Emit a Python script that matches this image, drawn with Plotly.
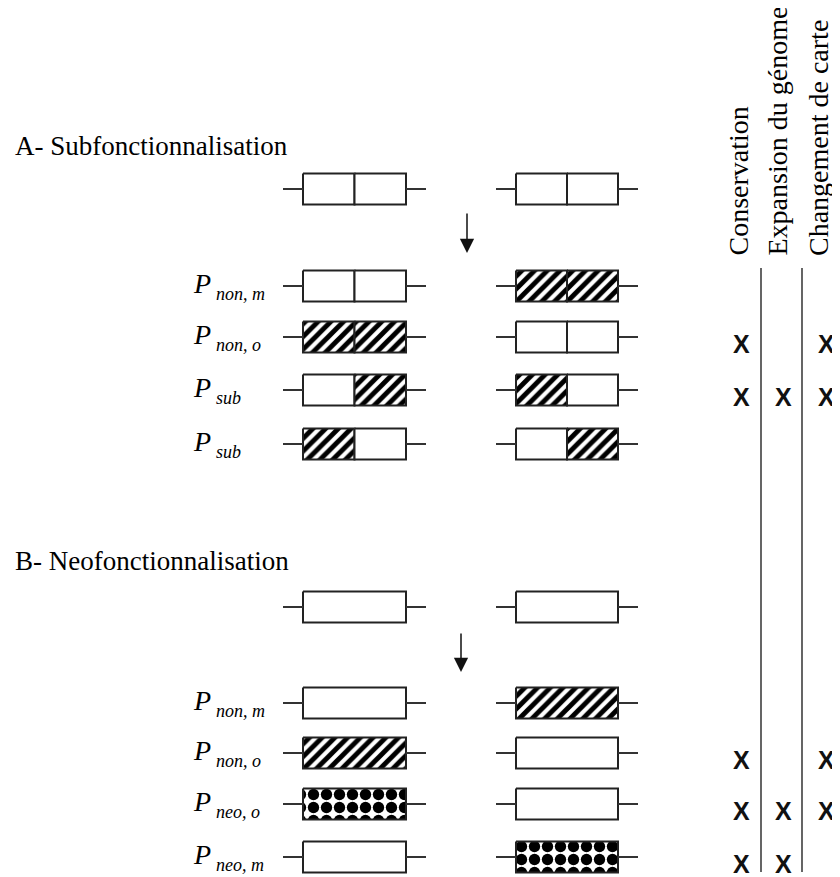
import plotly.graph_objects as go

# ---------------- data ----------------
section_titles = ["A- Subfonctionnalisation", "B- Neofonctionnalisation"]
criteria = ["Conservation", "Expansion du génome", "Changement de carte"]

# rows: first row is the ancestral duplicated pair (no label)
A_labels = ["", "non, m", "non, o", "sub", "sub"]
A_left = [["w", "w"], ["w", "w"], ["h", "h"], ["w", "h"], ["h", "w"]]
A_right = [["w", "w"], ["h", "h"], ["w", "w"], ["h", "w"], ["w", "h"]]
A_marks = [None, [0, 0, 0], [1, 0, 1], [1, 1, 1], [0, 0, 0]]

B_labels = ["", "non, m", "non, o", "neo, o", "neo, m"]
B_left = [["w"], ["w"], ["h"], ["c"], ["w"]]
B_right = [["w"], ["h"], ["w"], ["w"], ["c"]]
B_marks = [None, [0, 0, 0], [1, 0, 1], [1, 1, 1], [1, 1, 0]]

# ---------------- layout constants ----------------
W, H = 840, 877
PAGE_OFF = 8  # default body margin of the html page
A_rows_y = [189, 286, 337, 390, 444]
B_rows_y = [607, 703, 753, 804, 857]
title_baseline = [155, 570]
arrow_x = [467, 461]
arrow_y = [(212, 253), (632, 672)]
box_h = 31
left_box = (303, 406)
right_box = (516, 618)
stub = 20
crit_label_x = [738, 777, 818]
mark_x = [741, 783, 826]
vlines_x = [761, 802]
vline_y = (268, 872)

fig = go.Figure()
shapes = []
annotations = []

serif = "Liberation Serif"


def draw_gene(x0, x1, yc, parts):
    shapes.append(dict(type="line", x0=x0 - stub, x1=x0, y0=yc, y1=yc,
                       line=dict(color="#333", width=2)))
    shapes.append(dict(type="line", x0=x1, x1=x1 + stub, y0=yc, y1=yc,
                       line=dict(color="#333", width=2)))
    n = len(parts)
    wseg = (x1 - x0) / n
    y0, y1 = yc - box_h / 2, yc + box_h / 2
    for i, p in enumerate(parts):
        a, b = x0 + i * wseg, x0 + (i + 1) * wseg
        kw = dict(x=[a, b, b, a, a], y=[y0, y0, y1, y1, y0], mode="lines",
                  fill="toself", line=dict(color="#222", width=2),
                  hoverinfo="skip", showlegend=False)
        if p == "w":
            kw["fillcolor"] = "white"
        elif p == "h":
            kw["fillcolor"] = "black"
            kw["fillpattern"] = dict(shape="/", bgcolor="white", fgcolor="black",
                                     fgopacity=1, size=9, solidity=0.55)
        else:
            kw["fillcolor"] = "black"
            kw["fillpattern"] = dict(shape=".", bgcolor="white", fgcolor="black",
                                     fgopacity=1, size=13, solidity=0.6)
        fig.add_trace(go.Scatter(**kw))


def draw_section(si, rows_y, labels, left, right, marks):
    fs = 27
    annotations.append(dict(x=13, y=title_baseline[si] - 0.34 * fs, text=section_titles[si],
                            xanchor="left", yanchor="middle", showarrow=False,
                            font=dict(family=serif, size=fs, color="black")))
    for r, yc in enumerate(rows_y):
        draw_gene(left_box[0], left_box[1], yc, left[r])
        draw_gene(right_box[0], right_box[1], yc, right[r])
        if labels[r]:
            annotations.append(dict(x=191, y=yc + 7 - 0.34 * 28, text="<i>P</i>",
                                    xanchor="left", yanchor="middle", showarrow=False,
                                    font=dict(family=serif, size=28, color="black")))
            annotations.append(dict(x=214, y=yc + 14 - 0.34 * 18, text="<i>" + labels[r] + "</i>",
                                    xanchor="left", yanchor="middle", showarrow=False,
                                    font=dict(family=serif, size=18, color="black")))
        if marks[r]:
            for c, m in enumerate(marks[r]):
                if m:
                    annotations.append(dict(x=mark_x[c], y=yc + 7, text="<b>X</b>",
                                            xanchor="center", yanchor="middle", showarrow=False,
                                            font=dict(family="Liberation Sans", size=25, color="#111")))
    annotations.append(dict(x=arrow_x[si], y=arrow_y[si][1], ax=arrow_x[si], ay=arrow_y[si][0],
                            xref="x", yref="y", axref="x", ayref="y", text="",
                            showarrow=True, arrowhead=2, arrowsize=1.9, arrowwidth=1.5,
                            arrowcolor="#111"))


draw_section(0, A_rows_y, A_labels, A_left, A_right, A_marks)
draw_section(1, B_rows_y, B_labels, B_left, B_right, B_marks)

for i, name in enumerate(criteria):
    annotations.append(dict(x=crit_label_x[i], y=258, text=name, textangle=-90,
                            xanchor="center", yanchor="bottom", showarrow=False,
                            font=dict(family=serif, size=28, color="black")))

for vx in vlines_x:
    shapes.append(dict(type="line", x0=vx, x1=vx, y0=vline_y[0], y1=vline_y[1],
                       line=dict(color="#555", width=1.8)))

fig.update_layout(
    width=W - PAGE_OFF, height=H - PAGE_OFF, margin=dict(l=0, r=0, t=0, b=0),
    paper_bgcolor="white", plot_bgcolor="white",
    xaxis=dict(range=[PAGE_OFF, W], visible=False, fixedrange=True),
    yaxis=dict(range=[H, PAGE_OFF], visible=False, fixedrange=True),
    shapes=shapes, annotations=annotations, showlegend=False,
)

fig.write_html("out.html")
